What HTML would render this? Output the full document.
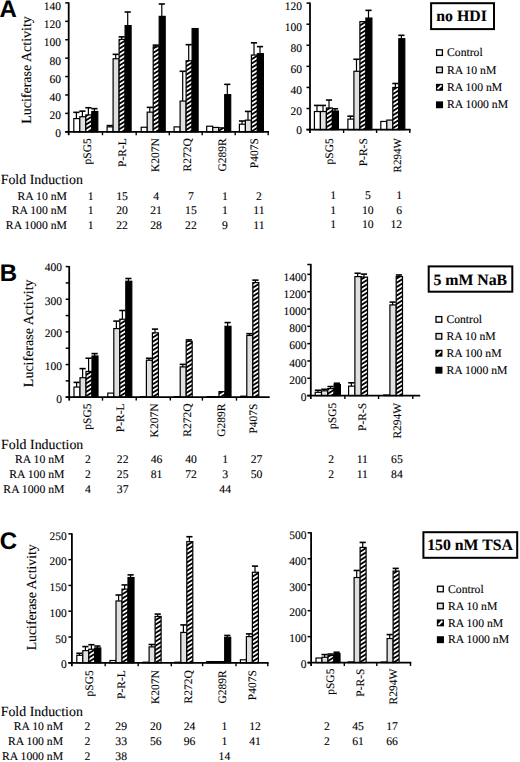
<!DOCTYPE html>
<html><head><meta charset="utf-8"><title>Figure</title>
<style>
html,body{margin:0;padding:0;background:#fff;}
body{width:520px;height:762px;overflow:hidden;font-family:"Liberation Serif",serif;}
svg{display:block;}
text{text-rendering:geometricPrecision;stroke:#000;stroke-width:0.1px;}
</style></head>
<body>
<svg width="520" height="762" viewBox="0 0 520 762">
<defs>
<pattern id="hatch" patternUnits="userSpaceOnUse" width="3.6" height="3.6" patternTransform="rotate(-32)">
<rect x="0" y="0" width="3.6" height="3.6" fill="#000"/>
<rect x="0" y="0.9" width="3.6" height="1.75" fill="#fff"/>
</pattern>
</defs>
<rect x="0" y="0" width="520" height="762" fill="#fff"/>
<text x="-0.6" y="17.4" font-size="24" text-anchor="start" font-weight="bold" font-family='"Liberation Sans", sans-serif'>A</text>
<text transform="translate(30.6,70) rotate(-90)" font-size="14" text-anchor="middle" font-family='"Liberation Serif", serif'>Luciferase Activity</text>
<rect x="73.8" y="118.59" width="6" height="13.21" fill="#fff" stroke="#000" stroke-width="1.2"/>
<line x1="76.4" y1="112.34" x2="76.4" y2="118.59" stroke="#000" stroke-width="1.2"/>
<line x1="73.3" y1="112.34" x2="79.5" y2="112.34" stroke="#000" stroke-width="1.6"/>
<rect x="79.8" y="116.75" width="6" height="15.05" fill="#e0e0e0" stroke="#000" stroke-width="1.2"/>
<line x1="82.4" y1="111.15" x2="82.4" y2="116.75" stroke="#000" stroke-width="1.2"/>
<line x1="79.3" y1="111.15" x2="85.5" y2="111.15" stroke="#000" stroke-width="1.6"/>
<rect x="85.8" y="114.91" width="6" height="16.89" fill="url(#hatch)" stroke="#000" stroke-width="1.2"/>
<line x1="88.4" y1="107.74" x2="88.4" y2="114.91" stroke="#000" stroke-width="1.2"/>
<line x1="85.3" y1="107.74" x2="91.5" y2="107.74" stroke="#000" stroke-width="1.6"/>
<rect x="91.8" y="111.5" width="6" height="20.3" fill="#000" stroke="#000" stroke-width="1.2"/>
<line x1="94.4" y1="108.66" x2="94.4" y2="111.5" stroke="#000" stroke-width="1.2"/>
<line x1="91.3" y1="108.66" x2="97.5" y2="108.66" stroke="#000" stroke-width="1.6"/>
<rect x="107.1" y="126.88" width="6" height="4.92" fill="#fff" stroke="#000" stroke-width="1.2"/>
<line x1="109.7" y1="125.6" x2="109.7" y2="126.88" stroke="#000" stroke-width="1.2"/>
<line x1="106.6" y1="125.6" x2="112.8" y2="125.6" stroke="#000" stroke-width="1.6"/>
<rect x="113.1" y="58.74" width="6" height="73.06" fill="#e0e0e0" stroke="#000" stroke-width="1.2"/>
<line x1="115.7" y1="54.34" x2="115.7" y2="58.74" stroke="#000" stroke-width="1.2"/>
<line x1="112.6" y1="54.34" x2="118.8" y2="54.34" stroke="#000" stroke-width="1.6"/>
<rect x="119.1" y="39.41" width="6" height="92.39" fill="url(#hatch)" stroke="#000" stroke-width="1.2"/>
<line x1="121.7" y1="36.85" x2="121.7" y2="39.41" stroke="#000" stroke-width="1.2"/>
<line x1="118.6" y1="36.85" x2="124.8" y2="36.85" stroke="#000" stroke-width="1.6"/>
<rect x="125.1" y="25.6" width="6" height="106.2" fill="#000" stroke="#000" stroke-width="1.2"/>
<line x1="127.7" y1="11.99" x2="127.7" y2="25.6" stroke="#000" stroke-width="1.2"/>
<line x1="124.6" y1="11.99" x2="130.8" y2="11.99" stroke="#000" stroke-width="1.6"/>
<rect x="141.2" y="127.24" width="6" height="4.56" fill="#fff" stroke="#000" stroke-width="1.2"/>
<rect x="147.2" y="112.14" width="6" height="19.66" fill="#e0e0e0" stroke="#000" stroke-width="1.2"/>
<line x1="149.8" y1="107.37" x2="149.8" y2="112.14" stroke="#000" stroke-width="1.2"/>
<line x1="146.7" y1="107.37" x2="152.9" y2="107.37" stroke="#000" stroke-width="1.6"/>
<rect x="153.2" y="46.77" width="6" height="85.03" fill="url(#hatch)" stroke="#000" stroke-width="1.2"/>
<line x1="155.8" y1="45.13" x2="155.8" y2="46.77" stroke="#000" stroke-width="1.2"/>
<line x1="152.7" y1="45.13" x2="158.9" y2="45.13" stroke="#000" stroke-width="1.6"/>
<rect x="159.2" y="16.39" width="6" height="115.41" fill="#000" stroke="#000" stroke-width="1.2"/>
<line x1="161.8" y1="3.98" x2="161.8" y2="16.39" stroke="#000" stroke-width="1.2"/>
<line x1="158.7" y1="3.98" x2="164.9" y2="3.98" stroke="#000" stroke-width="1.6"/>
<rect x="174.1" y="126.88" width="6" height="4.92" fill="#fff" stroke="#000" stroke-width="1.2"/>
<rect x="180.1" y="101.1" width="6" height="30.7" fill="#e0e0e0" stroke="#000" stroke-width="1.2"/>
<line x1="182.7" y1="71.28" x2="182.7" y2="101.1" stroke="#000" stroke-width="1.2"/>
<line x1="179.6" y1="71.28" x2="185.8" y2="71.28" stroke="#000" stroke-width="1.6"/>
<rect x="186.1" y="60.77" width="6" height="71.03" fill="url(#hatch)" stroke="#000" stroke-width="1.2"/>
<line x1="188.7" y1="44.67" x2="188.7" y2="60.77" stroke="#000" stroke-width="1.2"/>
<line x1="185.6" y1="44.67" x2="191.8" y2="44.67" stroke="#000" stroke-width="1.6"/>
<rect x="192.1" y="28.55" width="6" height="103.25" fill="#000" stroke="#000" stroke-width="1.2"/>
<rect x="206.7" y="126.23" width="6" height="5.57" fill="#fff" stroke="#000" stroke-width="1.2"/>
<rect x="212.7" y="127.43" width="6" height="4.37" fill="#e0e0e0" stroke="#000" stroke-width="1.2"/>
<rect x="218.7" y="127.8" width="6" height="4" fill="url(#hatch)" stroke="#000" stroke-width="1.2"/>
<rect x="224.7" y="94.65" width="6" height="37.15" fill="#000" stroke="#000" stroke-width="1.2"/>
<line x1="227.3" y1="84.36" x2="227.3" y2="94.65" stroke="#000" stroke-width="1.2"/>
<line x1="224.2" y1="84.36" x2="230.4" y2="84.36" stroke="#000" stroke-width="1.6"/>
<rect x="239.4" y="124.21" width="6" height="7.59" fill="#fff" stroke="#000" stroke-width="1.2"/>
<line x1="242" y1="121" x2="242" y2="124.21" stroke="#000" stroke-width="1.2"/>
<line x1="238.9" y1="121" x2="245.1" y2="121" stroke="#000" stroke-width="1.6"/>
<rect x="245.4" y="120.15" width="6" height="11.65" fill="#e0e0e0" stroke="#000" stroke-width="1.2"/>
<line x1="248" y1="111.42" x2="248" y2="120.15" stroke="#000" stroke-width="1.2"/>
<line x1="244.9" y1="111.42" x2="251.1" y2="111.42" stroke="#000" stroke-width="1.6"/>
<rect x="251.4" y="55.06" width="6" height="76.74" fill="url(#hatch)" stroke="#000" stroke-width="1.2"/>
<line x1="254" y1="42.83" x2="254" y2="55.06" stroke="#000" stroke-width="1.2"/>
<line x1="250.9" y1="42.83" x2="257.1" y2="42.83" stroke="#000" stroke-width="1.6"/>
<rect x="257.4" y="53.68" width="6" height="78.12" fill="#000" stroke="#000" stroke-width="1.2"/>
<line x1="260" y1="46.61" x2="260" y2="53.68" stroke="#000" stroke-width="1.2"/>
<line x1="256.9" y1="46.61" x2="263.1" y2="46.61" stroke="#000" stroke-width="1.6"/>
<line x1="68.7" y1="2.3" x2="68.7" y2="135.2" stroke="#000" stroke-width="1.8"/>
<line x1="65.2" y1="131.8" x2="269" y2="131.8" stroke="#000" stroke-width="1.8"/>
<line x1="65.2" y1="131.8" x2="68.7" y2="131.8" stroke="#000" stroke-width="1.5"/>
<line x1="65.2" y1="113.39" x2="68.7" y2="113.39" stroke="#000" stroke-width="1.5"/>
<line x1="65.2" y1="94.97" x2="68.7" y2="94.97" stroke="#000" stroke-width="1.5"/>
<line x1="65.2" y1="76.56" x2="68.7" y2="76.56" stroke="#000" stroke-width="1.5"/>
<line x1="65.2" y1="58.14" x2="68.7" y2="58.14" stroke="#000" stroke-width="1.5"/>
<line x1="65.2" y1="39.73" x2="68.7" y2="39.73" stroke="#000" stroke-width="1.5"/>
<line x1="65.2" y1="21.32" x2="68.7" y2="21.32" stroke="#000" stroke-width="1.5"/>
<line x1="65.2" y1="2.9" x2="68.7" y2="2.9" stroke="#000" stroke-width="1.5"/>
<text x="61" y="136.79" font-size="11.5" text-anchor="end" font-weight="normal" font-family='"Liberation Serif", serif'>0</text>
<text x="61" y="119.48" font-size="11.5" text-anchor="end" font-weight="normal" font-family='"Liberation Serif", serif'>20</text>
<text x="61" y="101.37" font-size="11.5" text-anchor="end" font-weight="normal" font-family='"Liberation Serif", serif'>40</text>
<text x="61" y="82.95" font-size="11.5" text-anchor="end" font-weight="normal" font-family='"Liberation Serif", serif'>60</text>
<text x="61" y="64.54" font-size="11.5" text-anchor="end" font-weight="normal" font-family='"Liberation Serif", serif'>80</text>
<text x="61" y="46.33" font-size="11.5" text-anchor="end" font-weight="normal" font-family='"Liberation Serif", serif'>100</text>
<text x="61" y="27.91" font-size="11.5" text-anchor="end" font-weight="normal" font-family='"Liberation Serif", serif'>120</text>
<text x="61" y="9.7" font-size="11.5" text-anchor="end" font-weight="normal" font-family='"Liberation Serif", serif'>140</text>
<line x1="102.5" y1="131.8" x2="102.5" y2="135.2" stroke="#000" stroke-width="1.4"/>
<line x1="136.2" y1="131.8" x2="136.2" y2="135.2" stroke="#000" stroke-width="1.4"/>
<line x1="169.3" y1="131.8" x2="169.3" y2="135.2" stroke="#000" stroke-width="1.4"/>
<line x1="202.2" y1="131.8" x2="202.2" y2="135.2" stroke="#000" stroke-width="1.4"/>
<line x1="235.2" y1="131.8" x2="235.2" y2="135.2" stroke="#000" stroke-width="1.4"/>
<line x1="268.2" y1="131.8" x2="268.2" y2="135.2" stroke="#000" stroke-width="1.4"/>
<text transform="translate(91.3,138.2) rotate(-90)" font-size="11.5" text-anchor="end" font-family='"Liberation Serif", serif'>pSG5</text>
<text transform="translate(125.8,138.2) rotate(-90)" font-size="11.5" text-anchor="end" font-family='"Liberation Serif", serif'>P-R-L</text>
<text transform="translate(159.2,138.2) rotate(-90)" font-size="11.5" text-anchor="end" font-family='"Liberation Serif", serif'>K207N</text>
<text transform="translate(191.3,138.2) rotate(-90)" font-size="11.5" text-anchor="end" font-family='"Liberation Serif", serif'>R272Q</text>
<text transform="translate(226,138.2) rotate(-90)" font-size="11.5" text-anchor="end" font-family='"Liberation Serif", serif'>G289R</text>
<text transform="translate(258,138.2) rotate(-90)" font-size="11.5" text-anchor="end" font-family='"Liberation Serif", serif'>P407S</text>
<rect x="314.4" y="111.54" width="6" height="18.06" fill="#fff" stroke="#000" stroke-width="1.2"/>
<line x1="317" y1="105.42" x2="317" y2="111.54" stroke="#000" stroke-width="1.2"/>
<line x1="313.9" y1="105.42" x2="320.1" y2="105.42" stroke="#000" stroke-width="1.6"/>
<rect x="320.4" y="111.54" width="6" height="18.06" fill="#e0e0e0" stroke="#000" stroke-width="1.2"/>
<line x1="323" y1="105.42" x2="323" y2="111.54" stroke="#000" stroke-width="1.2"/>
<line x1="319.9" y1="105.42" x2="326.1" y2="105.42" stroke="#000" stroke-width="1.6"/>
<rect x="326.4" y="107.96" width="6" height="21.64" fill="url(#hatch)" stroke="#000" stroke-width="1.2"/>
<line x1="329" y1="100.04" x2="329" y2="107.96" stroke="#000" stroke-width="1.2"/>
<line x1="325.9" y1="100.04" x2="332.1" y2="100.04" stroke="#000" stroke-width="1.6"/>
<rect x="332.4" y="111.02" width="6" height="18.58" fill="#000" stroke="#000" stroke-width="1.2"/>
<line x1="335" y1="108.79" x2="335" y2="111.02" stroke="#000" stroke-width="1.2"/>
<line x1="331.9" y1="108.79" x2="338.1" y2="108.79" stroke="#000" stroke-width="1.6"/>
<rect x="347.9" y="119.13" width="6" height="10.47" fill="#fff" stroke="#000" stroke-width="1.2"/>
<line x1="350.5" y1="116.17" x2="350.5" y2="119.13" stroke="#000" stroke-width="1.2"/>
<line x1="347.4" y1="116.17" x2="353.6" y2="116.17" stroke="#000" stroke-width="1.6"/>
<rect x="353.9" y="71.28" width="6" height="58.32" fill="#e0e0e0" stroke="#000" stroke-width="1.2"/>
<line x1="356.5" y1="59.25" x2="356.5" y2="71.28" stroke="#000" stroke-width="1.2"/>
<line x1="353.4" y1="59.25" x2="359.6" y2="59.25" stroke="#000" stroke-width="1.6"/>
<rect x="359.9" y="21.64" width="6" height="107.96" fill="url(#hatch)" stroke="#000" stroke-width="1.2"/>
<rect x="365.9" y="18.05" width="6" height="111.55" fill="#000" stroke="#000" stroke-width="1.2"/>
<line x1="368.5" y1="10.35" x2="368.5" y2="18.05" stroke="#000" stroke-width="1.2"/>
<line x1="365.4" y1="10.35" x2="371.6" y2="10.35" stroke="#000" stroke-width="1.6"/>
<rect x="380.8" y="121.45" width="6" height="8.15" fill="#fff" stroke="#000" stroke-width="1.2"/>
<rect x="386.8" y="120.08" width="6" height="9.52" fill="#e0e0e0" stroke="#000" stroke-width="1.2"/>
<rect x="392.8" y="87.51" width="6" height="42.09" fill="url(#hatch)" stroke="#000" stroke-width="1.2"/>
<line x1="395.4" y1="83.5" x2="395.4" y2="87.51" stroke="#000" stroke-width="1.2"/>
<line x1="392.3" y1="83.5" x2="398.5" y2="83.5" stroke="#000" stroke-width="1.6"/>
<rect x="398.8" y="38.71" width="6" height="90.89" fill="#000" stroke="#000" stroke-width="1.2"/>
<line x1="401.4" y1="35.33" x2="401.4" y2="38.71" stroke="#000" stroke-width="1.2"/>
<line x1="398.3" y1="35.33" x2="404.5" y2="35.33" stroke="#000" stroke-width="1.6"/>
<line x1="310" y1="2.52" x2="310" y2="133" stroke="#000" stroke-width="1.8"/>
<line x1="306.5" y1="129.6" x2="410.6" y2="129.6" stroke="#000" stroke-width="1.8"/>
<line x1="306.5" y1="129.6" x2="310" y2="129.6" stroke="#000" stroke-width="1.5"/>
<line x1="306.5" y1="108.52" x2="310" y2="108.52" stroke="#000" stroke-width="1.5"/>
<line x1="306.5" y1="87.44" x2="310" y2="87.44" stroke="#000" stroke-width="1.5"/>
<line x1="306.5" y1="66.36" x2="310" y2="66.36" stroke="#000" stroke-width="1.5"/>
<line x1="306.5" y1="45.28" x2="310" y2="45.28" stroke="#000" stroke-width="1.5"/>
<line x1="306.5" y1="24.2" x2="310" y2="24.2" stroke="#000" stroke-width="1.5"/>
<line x1="306.5" y1="3.12" x2="310" y2="3.12" stroke="#000" stroke-width="1.5"/>
<text x="302" y="134.49" font-size="11.5" text-anchor="end" font-weight="normal" font-family='"Liberation Serif", serif'>0</text>
<text x="302" y="114.81" font-size="11.5" text-anchor="end" font-weight="normal" font-family='"Liberation Serif", serif'>20</text>
<text x="302" y="94.14" font-size="11.5" text-anchor="end" font-weight="normal" font-family='"Liberation Serif", serif'>40</text>
<text x="302" y="73.45" font-size="11.5" text-anchor="end" font-weight="normal" font-family='"Liberation Serif", serif'>60</text>
<text x="302" y="52.27" font-size="11.5" text-anchor="end" font-weight="normal" font-family='"Liberation Serif", serif'>80</text>
<text x="302" y="30.59" font-size="11.5" text-anchor="end" font-weight="normal" font-family='"Liberation Serif", serif'>100</text>
<text x="302" y="9.81" font-size="11.5" text-anchor="end" font-weight="normal" font-family='"Liberation Serif", serif'>120</text>
<line x1="343.6" y1="129.6" x2="343.6" y2="133" stroke="#000" stroke-width="1.4"/>
<line x1="376.6" y1="129.6" x2="376.6" y2="133" stroke="#000" stroke-width="1.4"/>
<line x1="409.8" y1="129.6" x2="409.8" y2="133" stroke="#000" stroke-width="1.4"/>
<text transform="translate(333,138.2) rotate(-90)" font-size="11.5" text-anchor="end" font-family='"Liberation Serif", serif'>pSG5</text>
<text transform="translate(367,138.2) rotate(-90)" font-size="11.5" text-anchor="end" font-family='"Liberation Serif", serif'>P-R-S</text>
<text transform="translate(401,138.2) rotate(-90)" font-size="11" text-anchor="end" font-family='"Liberation Serif", serif'>R294W</text>
<rect x="431.1" y="3.2" width="62.9" height="25.9" fill="none" stroke="#000" stroke-width="2"/>
<text x="436.3" y="20.6" font-size="15.8" text-anchor="start" font-weight="bold" font-family='"Liberation Serif", serif'>no HDI</text>
<rect x="436.6" y="49.8" width="5.8" height="5.6" fill="#fff" stroke="#000" stroke-width="1.3"/>
<text x="447" y="56.2" font-size="11.7" text-anchor="start" font-weight="normal" font-family='"Liberation Serif", serif'>Control</text>
<rect x="436.6" y="67.1" width="5.8" height="5.6" fill="#e0e0e0" stroke="#000" stroke-width="1.3"/>
<text x="447" y="73.5" font-size="11.7" text-anchor="start" font-weight="normal" font-family='"Liberation Serif", serif'>RA 10 nM</text>
<rect x="436.6" y="84.5" width="5.8" height="5.6" fill="#000" stroke="#000" stroke-width="1.3"/>
<line x1="437.6" y1="89.1" x2="441.4" y2="85.5" stroke="#000" stroke-width="1.4"/>
<line x1="437.5" y1="89.2" x2="441.5" y2="85.4" stroke="#fff" stroke-width="1.8"/>
<text x="447" y="90.9" font-size="11.7" text-anchor="start" font-weight="normal" font-family='"Liberation Serif", serif'>RA 100 nM</text>
<rect x="436.6" y="102" width="5.8" height="5.6" fill="#000" stroke="#000" stroke-width="1.3"/>
<text x="447" y="108.4" font-size="11.7" text-anchor="start" font-weight="normal" font-family='"Liberation Serif", serif'>RA 1000 nM</text>
<text x="0.7" y="183.8" font-size="13.9" text-anchor="start" font-weight="normal" font-family='"Liberation Serif", serif'>Fold Induction</text>
<text x="66.9" y="199.8" font-size="11.7" text-anchor="end" font-weight="normal" font-family='"Liberation Serif", serif'>RA 10 nM</text>
<text x="66.9" y="214.4" font-size="11.7" text-anchor="end" font-weight="normal" font-family='"Liberation Serif", serif'>RA 100 nM</text>
<text x="66.9" y="228.8" font-size="11.7" text-anchor="end" font-weight="normal" font-family='"Liberation Serif", serif'>RA 1000 nM</text>
<text x="90.6" y="199.8" font-size="11.7" text-anchor="middle" font-weight="normal" font-family='"Liberation Serif", serif'>1</text>
<text x="122.1" y="199.8" font-size="11.7" text-anchor="middle" font-weight="normal" font-family='"Liberation Serif", serif'>15</text>
<text x="156.1" y="199.8" font-size="11.7" text-anchor="middle" font-weight="normal" font-family='"Liberation Serif", serif'>4</text>
<text x="190.9" y="199.8" font-size="11.7" text-anchor="middle" font-weight="normal" font-family='"Liberation Serif", serif'>7</text>
<text x="225" y="199.8" font-size="11.7" text-anchor="middle" font-weight="normal" font-family='"Liberation Serif", serif'>1</text>
<text x="259" y="199.8" font-size="11.7" text-anchor="middle" font-weight="normal" font-family='"Liberation Serif", serif'>2</text>
<text x="333.1" y="199" font-size="11.7" text-anchor="middle" font-weight="normal" font-family='"Liberation Serif", serif'>1</text>
<text x="367.8" y="199" font-size="11.7" text-anchor="middle" font-weight="normal" font-family='"Liberation Serif", serif'>5</text>
<text x="402.2" y="199" font-size="11.7" text-anchor="end" font-weight="normal" font-family='"Liberation Serif", serif'>1</text>
<text x="90.6" y="214.4" font-size="11.7" text-anchor="middle" font-weight="normal" font-family='"Liberation Serif", serif'>1</text>
<text x="122.1" y="214.4" font-size="11.7" text-anchor="middle" font-weight="normal" font-family='"Liberation Serif", serif'>20</text>
<text x="156.1" y="214.4" font-size="11.7" text-anchor="middle" font-weight="normal" font-family='"Liberation Serif", serif'>21</text>
<text x="190.9" y="214.4" font-size="11.7" text-anchor="middle" font-weight="normal" font-family='"Liberation Serif", serif'>15</text>
<text x="225" y="214.4" font-size="11.7" text-anchor="middle" font-weight="normal" font-family='"Liberation Serif", serif'>1</text>
<text x="259" y="214.4" font-size="11.7" text-anchor="middle" font-weight="normal" font-family='"Liberation Serif", serif'>11</text>
<text x="333.1" y="213.6" font-size="11.7" text-anchor="middle" font-weight="normal" font-family='"Liberation Serif", serif'>1</text>
<text x="367.8" y="213.6" font-size="11.7" text-anchor="middle" font-weight="normal" font-family='"Liberation Serif", serif'>10</text>
<text x="402.2" y="213.6" font-size="11.7" text-anchor="end" font-weight="normal" font-family='"Liberation Serif", serif'>6</text>
<text x="90.6" y="228.8" font-size="11.7" text-anchor="middle" font-weight="normal" font-family='"Liberation Serif", serif'>1</text>
<text x="122.1" y="228.8" font-size="11.7" text-anchor="middle" font-weight="normal" font-family='"Liberation Serif", serif'>22</text>
<text x="156.1" y="228.8" font-size="11.7" text-anchor="middle" font-weight="normal" font-family='"Liberation Serif", serif'>28</text>
<text x="190.9" y="228.8" font-size="11.7" text-anchor="middle" font-weight="normal" font-family='"Liberation Serif", serif'>22</text>
<text x="225" y="228.8" font-size="11.7" text-anchor="middle" font-weight="normal" font-family='"Liberation Serif", serif'>9</text>
<text x="259" y="228.8" font-size="11.7" text-anchor="middle" font-weight="normal" font-family='"Liberation Serif", serif'>11</text>
<text x="333.1" y="228" font-size="11.7" text-anchor="middle" font-weight="normal" font-family='"Liberation Serif", serif'>1</text>
<text x="367.8" y="228" font-size="11.7" text-anchor="middle" font-weight="normal" font-family='"Liberation Serif", serif'>10</text>
<text x="402.2" y="228" font-size="11.7" text-anchor="end" font-weight="normal" font-family='"Liberation Serif", serif'>12</text>
<text x="-0.2" y="280.8" font-size="24" text-anchor="start" font-weight="bold" font-family='"Liberation Sans", sans-serif'>B</text>
<text transform="translate(33,333.3) rotate(-90)" font-size="14" text-anchor="middle" font-family='"Liberation Serif", serif'>Luciferase Activity</text>
<rect x="74" y="387.06" width="6" height="10.14" fill="#fff" stroke="#000" stroke-width="1.2"/>
<line x1="76.6" y1="382.39" x2="76.6" y2="387.06" stroke="#000" stroke-width="1.2"/>
<line x1="73.5" y1="382.39" x2="79.7" y2="382.39" stroke="#000" stroke-width="1.6"/>
<rect x="80" y="377.72" width="6" height="19.48" fill="#e0e0e0" stroke="#000" stroke-width="1.2"/>
<line x1="82.6" y1="368.62" x2="82.6" y2="377.72" stroke="#000" stroke-width="1.2"/>
<line x1="79.5" y1="368.62" x2="85.7" y2="368.62" stroke="#000" stroke-width="1.6"/>
<rect x="86" y="371.45" width="6" height="25.75" fill="url(#hatch)" stroke="#000" stroke-width="1.2"/>
<line x1="88.6" y1="358.23" x2="88.6" y2="371.45" stroke="#000" stroke-width="1.2"/>
<line x1="85.5" y1="358.23" x2="91.7" y2="358.23" stroke="#000" stroke-width="1.6"/>
<rect x="92" y="356.01" width="6" height="41.19" fill="#000" stroke="#000" stroke-width="1.2"/>
<line x1="94.6" y1="353.6" x2="94.6" y2="356.01" stroke="#000" stroke-width="1.2"/>
<line x1="91.5" y1="353.6" x2="97.7" y2="353.6" stroke="#000" stroke-width="1.6"/>
<rect x="107.8" y="393.1" width="6" height="4.1" fill="#fff" stroke="#000" stroke-width="1.2"/>
<rect x="113.8" y="328.58" width="6" height="68.62" fill="#e0e0e0" stroke="#000" stroke-width="1.2"/>
<line x1="116.4" y1="321.11" x2="116.4" y2="328.58" stroke="#000" stroke-width="1.2"/>
<line x1="113.3" y1="321.11" x2="119.5" y2="321.11" stroke="#000" stroke-width="1.6"/>
<rect x="119.8" y="319.21" width="6" height="77.99" fill="url(#hatch)" stroke="#000" stroke-width="1.2"/>
<line x1="122.4" y1="310.5" x2="122.4" y2="319.21" stroke="#000" stroke-width="1.2"/>
<line x1="119.3" y1="310.5" x2="125.5" y2="310.5" stroke="#000" stroke-width="1.6"/>
<rect x="125.8" y="281.24" width="6" height="115.96" fill="#000" stroke="#000" stroke-width="1.2"/>
<line x1="128.4" y1="278.5" x2="128.4" y2="281.24" stroke="#000" stroke-width="1.2"/>
<line x1="125.3" y1="278.5" x2="131.5" y2="278.5" stroke="#000" stroke-width="1.6"/>
<rect x="140.4" y="396.6" width="6" height="0.6" fill="#fff" stroke="#000" stroke-width="1.2"/>
<rect x="146.4" y="360.25" width="6" height="36.95" fill="#e0e0e0" stroke="#000" stroke-width="1.2"/>
<line x1="149" y1="358.3" x2="149" y2="360.25" stroke="#000" stroke-width="1.2"/>
<line x1="145.9" y1="358.3" x2="152.1" y2="358.3" stroke="#000" stroke-width="1.6"/>
<rect x="152.4" y="332.83" width="6" height="64.37" fill="url(#hatch)" stroke="#000" stroke-width="1.2"/>
<line x1="155" y1="329.11" x2="155" y2="332.83" stroke="#000" stroke-width="1.2"/>
<line x1="151.9" y1="329.11" x2="158.1" y2="329.11" stroke="#000" stroke-width="1.6"/>
<rect x="174.2" y="396.6" width="6" height="0.6" fill="#fff" stroke="#000" stroke-width="1.2"/>
<rect x="180.2" y="366.91" width="6" height="30.29" fill="#e0e0e0" stroke="#000" stroke-width="1.2"/>
<line x1="182.8" y1="364.37" x2="182.8" y2="366.91" stroke="#000" stroke-width="1.2"/>
<line x1="179.7" y1="364.37" x2="185.9" y2="364.37" stroke="#000" stroke-width="1.6"/>
<rect x="186.2" y="341.32" width="6" height="55.88" fill="url(#hatch)" stroke="#000" stroke-width="1.2"/>
<line x1="188.8" y1="339.88" x2="188.8" y2="341.32" stroke="#000" stroke-width="1.2"/>
<line x1="185.7" y1="339.88" x2="191.9" y2="339.88" stroke="#000" stroke-width="1.6"/>
<rect x="207" y="396.6" width="6" height="0.6" fill="#fff" stroke="#000" stroke-width="1.2"/>
<rect x="213" y="396.6" width="6" height="0.6" fill="#e0e0e0" stroke="#000" stroke-width="1.2"/>
<rect x="219" y="391.6" width="6" height="5.6" fill="url(#hatch)" stroke="#000" stroke-width="1.2"/>
<rect x="225" y="326.3" width="6" height="70.9" fill="#000" stroke="#000" stroke-width="1.2"/>
<line x1="227.6" y1="322.58" x2="227.6" y2="326.3" stroke="#000" stroke-width="1.2"/>
<line x1="224.5" y1="322.58" x2="230.7" y2="322.58" stroke="#000" stroke-width="1.6"/>
<rect x="240.8" y="396.17" width="6" height="1.03" fill="#fff" stroke="#000" stroke-width="1.2"/>
<rect x="246.8" y="335.44" width="6" height="61.76" fill="#e0e0e0" stroke="#000" stroke-width="1.2"/>
<line x1="249.4" y1="333.68" x2="249.4" y2="335.44" stroke="#000" stroke-width="1.2"/>
<line x1="246.3" y1="333.68" x2="252.5" y2="333.68" stroke="#000" stroke-width="1.6"/>
<rect x="252.8" y="282.55" width="6" height="114.65" fill="url(#hatch)" stroke="#000" stroke-width="1.2"/>
<line x1="255.4" y1="280.13" x2="255.4" y2="282.55" stroke="#000" stroke-width="1.2"/>
<line x1="252.3" y1="280.13" x2="258.5" y2="280.13" stroke="#000" stroke-width="1.6"/>
<line x1="69.2" y1="266" x2="69.2" y2="400.6" stroke="#000" stroke-width="1.8"/>
<line x1="65.7" y1="397.2" x2="269.7" y2="397.2" stroke="#000" stroke-width="1.8"/>
<line x1="65.7" y1="397.2" x2="69.2" y2="397.2" stroke="#000" stroke-width="1.5"/>
<line x1="65.7" y1="364.55" x2="69.2" y2="364.55" stroke="#000" stroke-width="1.5"/>
<line x1="65.7" y1="331.9" x2="69.2" y2="331.9" stroke="#000" stroke-width="1.5"/>
<line x1="65.7" y1="299.25" x2="69.2" y2="299.25" stroke="#000" stroke-width="1.5"/>
<line x1="65.7" y1="266.6" x2="69.2" y2="266.6" stroke="#000" stroke-width="1.5"/>
<line x1="65.7" y1="380.88" x2="69.2" y2="380.88" stroke="#000" stroke-width="1.5"/>
<line x1="65.7" y1="348.22" x2="69.2" y2="348.22" stroke="#000" stroke-width="1.5"/>
<line x1="65.7" y1="315.57" x2="69.2" y2="315.57" stroke="#000" stroke-width="1.5"/>
<line x1="65.7" y1="282.92" x2="69.2" y2="282.92" stroke="#000" stroke-width="1.5"/>
<text x="62" y="403.39" font-size="11.5" text-anchor="end" font-weight="normal" font-family='"Liberation Serif", serif'>0</text>
<text x="62" y="369.55" font-size="11.5" text-anchor="end" font-weight="normal" font-family='"Liberation Serif", serif'>100</text>
<text x="62" y="337.19" font-size="11.5" text-anchor="end" font-weight="normal" font-family='"Liberation Serif", serif'>200</text>
<text x="62" y="304.55" font-size="11.5" text-anchor="end" font-weight="normal" font-family='"Liberation Serif", serif'>300</text>
<text x="62" y="271.4" font-size="11.5" text-anchor="end" font-weight="normal" font-family='"Liberation Serif", serif'>400</text>
<line x1="102.5" y1="397.2" x2="102.5" y2="400.6" stroke="#000" stroke-width="1.4"/>
<line x1="136.2" y1="397.2" x2="136.2" y2="400.6" stroke="#000" stroke-width="1.4"/>
<line x1="170.3" y1="397.2" x2="170.3" y2="400.6" stroke="#000" stroke-width="1.4"/>
<line x1="202.4" y1="397.2" x2="202.4" y2="400.6" stroke="#000" stroke-width="1.4"/>
<line x1="236.5" y1="397.2" x2="236.5" y2="400.6" stroke="#000" stroke-width="1.4"/>
<text transform="translate(91,403.5) rotate(-90)" font-size="11.5" text-anchor="end" font-family='"Liberation Serif", serif'>pSG5</text>
<text transform="translate(124.3,403.5) rotate(-90)" font-size="11.5" text-anchor="end" font-family='"Liberation Serif", serif'>P-R-L</text>
<text transform="translate(158,403.5) rotate(-90)" font-size="11.5" text-anchor="end" font-family='"Liberation Serif", serif'>K207N</text>
<text transform="translate(190.5,403.5) rotate(-90)" font-size="11.5" text-anchor="end" font-family='"Liberation Serif", serif'>R272Q</text>
<text transform="translate(225.3,403.5) rotate(-90)" font-size="11.5" text-anchor="end" font-family='"Liberation Serif", serif'>G289R</text>
<text transform="translate(256.5,403.5) rotate(-90)" font-size="11.5" text-anchor="end" font-family='"Liberation Serif", serif'>P407S</text>
<rect x="315.2" y="392.3" width="6.3" height="3.3" fill="#fff" stroke="#000" stroke-width="1.2"/>
<line x1="317.95" y1="390.25" x2="317.95" y2="392.3" stroke="#000" stroke-width="1.2"/>
<line x1="314.85" y1="390.25" x2="321.05" y2="390.25" stroke="#000" stroke-width="1.6"/>
<rect x="321.5" y="390.83" width="6.3" height="4.77" fill="#e0e0e0" stroke="#000" stroke-width="1.2"/>
<line x1="324.25" y1="389.3" x2="324.25" y2="390.83" stroke="#000" stroke-width="1.2"/>
<line x1="321.15" y1="389.3" x2="327.35" y2="389.3" stroke="#000" stroke-width="1.6"/>
<rect x="327.8" y="388.58" width="6.3" height="7.02" fill="url(#hatch)" stroke="#000" stroke-width="1.2"/>
<line x1="330.55" y1="386.53" x2="330.55" y2="388.58" stroke="#000" stroke-width="1.2"/>
<line x1="327.45" y1="386.53" x2="333.65" y2="386.53" stroke="#000" stroke-width="1.6"/>
<rect x="334.1" y="384.51" width="6.3" height="11.09" fill="#000" stroke="#000" stroke-width="1.2"/>
<line x1="336.85" y1="383.24" x2="336.85" y2="384.51" stroke="#000" stroke-width="1.2"/>
<line x1="333.75" y1="383.24" x2="339.95" y2="383.24" stroke="#000" stroke-width="1.6"/>
<rect x="348.6" y="386.15" width="6.3" height="9.45" fill="#fff" stroke="#000" stroke-width="1.2"/>
<line x1="351.35" y1="382.8" x2="351.35" y2="386.15" stroke="#000" stroke-width="1.2"/>
<line x1="348.25" y1="382.8" x2="354.45" y2="382.8" stroke="#000" stroke-width="1.6"/>
<rect x="354.9" y="276.61" width="6.3" height="118.99" fill="#e0e0e0" stroke="#000" stroke-width="1.2"/>
<line x1="357.65" y1="273.25" x2="357.65" y2="276.61" stroke="#000" stroke-width="1.2"/>
<line x1="354.55" y1="273.25" x2="360.75" y2="273.25" stroke="#000" stroke-width="1.6"/>
<rect x="361.2" y="277.13" width="6.3" height="118.47" fill="url(#hatch)" stroke="#000" stroke-width="1.2"/>
<line x1="363.95" y1="274.12" x2="363.95" y2="277.13" stroke="#000" stroke-width="1.2"/>
<line x1="360.85" y1="274.12" x2="367.05" y2="274.12" stroke="#000" stroke-width="1.6"/>
<rect x="383.6" y="395" width="6.3" height="0.6" fill="#fff" stroke="#000" stroke-width="1.2"/>
<rect x="389.9" y="304.92" width="6.3" height="90.68" fill="#e0e0e0" stroke="#000" stroke-width="1.2"/>
<line x1="392.65" y1="302.09" x2="392.65" y2="304.92" stroke="#000" stroke-width="1.2"/>
<line x1="389.55" y1="302.09" x2="395.75" y2="302.09" stroke="#000" stroke-width="1.6"/>
<rect x="396.2" y="276.61" width="6.3" height="118.99" fill="url(#hatch)" stroke="#000" stroke-width="1.2"/>
<line x1="398.95" y1="274.99" x2="398.95" y2="276.61" stroke="#000" stroke-width="1.2"/>
<line x1="395.85" y1="274.99" x2="402.05" y2="274.99" stroke="#000" stroke-width="1.6"/>
<line x1="310.8" y1="263.9" x2="310.8" y2="399" stroke="#000" stroke-width="1.8"/>
<line x1="307.3" y1="395.6" x2="420.2" y2="395.6" stroke="#000" stroke-width="1.8"/>
<line x1="307.3" y1="395.6" x2="310.8" y2="395.6" stroke="#000" stroke-width="1.5"/>
<line x1="307.3" y1="378.28" x2="310.8" y2="378.28" stroke="#000" stroke-width="1.5"/>
<line x1="307.3" y1="360.96" x2="310.8" y2="360.96" stroke="#000" stroke-width="1.5"/>
<line x1="307.3" y1="343.64" x2="310.8" y2="343.64" stroke="#000" stroke-width="1.5"/>
<line x1="307.3" y1="326.32" x2="310.8" y2="326.32" stroke="#000" stroke-width="1.5"/>
<line x1="307.3" y1="309" x2="310.8" y2="309" stroke="#000" stroke-width="1.5"/>
<line x1="307.3" y1="291.68" x2="310.8" y2="291.68" stroke="#000" stroke-width="1.5"/>
<line x1="307.3" y1="274.36" x2="310.8" y2="274.36" stroke="#000" stroke-width="1.5"/>
<line x1="307.3" y1="264.5" x2="310.8" y2="264.5" stroke="#000" stroke-width="1.5"/>
<text x="306.5" y="400.9" font-size="11.5" text-anchor="end" font-weight="normal" font-family='"Liberation Serif", serif'>0</text>
<text x="306.5" y="384.08" font-size="11.5" text-anchor="end" font-weight="normal" font-family='"Liberation Serif", serif'>200</text>
<text x="306.5" y="366.76" font-size="11.5" text-anchor="end" font-weight="normal" font-family='"Liberation Serif", serif'>400</text>
<text x="306.5" y="349.44" font-size="11.5" text-anchor="end" font-weight="normal" font-family='"Liberation Serif", serif'>600</text>
<text x="306.5" y="332.32" font-size="11.5" text-anchor="end" font-weight="normal" font-family='"Liberation Serif", serif'>800</text>
<text x="306.5" y="315" font-size="11.5" text-anchor="end" font-weight="normal" font-family='"Liberation Serif", serif'>1000</text>
<text x="306.5" y="297.58" font-size="11.5" text-anchor="end" font-weight="normal" font-family='"Liberation Serif", serif'>1200</text>
<text x="306.5" y="281.36" font-size="11.5" text-anchor="end" font-weight="normal" font-family='"Liberation Serif", serif'>1400</text>
<line x1="344.9" y1="395.6" x2="344.9" y2="399" stroke="#000" stroke-width="1.4"/>
<line x1="378.6" y1="395.6" x2="378.6" y2="399" stroke="#000" stroke-width="1.4"/>
<line x1="412.8" y1="395.6" x2="412.8" y2="399" stroke="#000" stroke-width="1.4"/>
<text transform="translate(336.1,402.8) rotate(-90)" font-size="11.5" text-anchor="end" font-family='"Liberation Serif", serif'>pSG5</text>
<text transform="translate(366.3,402.8) rotate(-90)" font-size="11.5" text-anchor="end" font-family='"Liberation Serif", serif'>P-R-S</text>
<text transform="translate(400.5,402.8) rotate(-90)" font-size="11.5" text-anchor="end" font-family='"Liberation Serif", serif'>R294W</text>
<rect x="428.7" y="266.4" width="83.6" height="25.3" fill="none" stroke="#000" stroke-width="2"/>
<text x="433.4" y="284.6" font-size="15.8" text-anchor="start" font-weight="bold" font-family='"Liberation Serif", serif'>5 mM NaB</text>
<rect x="436" y="316.6" width="5.8" height="5.6" fill="#fff" stroke="#000" stroke-width="1.3"/>
<text x="446.4" y="323" font-size="11.7" text-anchor="start" font-weight="normal" font-family='"Liberation Serif", serif'>Control</text>
<rect x="436" y="333.5" width="5.8" height="5.6" fill="#e0e0e0" stroke="#000" stroke-width="1.3"/>
<text x="446.4" y="339.9" font-size="11.7" text-anchor="start" font-weight="normal" font-family='"Liberation Serif", serif'>RA 10 nM</text>
<rect x="436" y="350.4" width="5.8" height="5.6" fill="#000" stroke="#000" stroke-width="1.3"/>
<line x1="437" y1="355" x2="440.8" y2="351.4" stroke="#000" stroke-width="1.4"/>
<line x1="436.9" y1="355.1" x2="440.9" y2="351.3" stroke="#fff" stroke-width="1.8"/>
<text x="446.4" y="356.8" font-size="11.7" text-anchor="start" font-weight="normal" font-family='"Liberation Serif", serif'>RA 100 nM</text>
<rect x="436" y="367.4" width="5.8" height="5.6" fill="#000" stroke="#000" stroke-width="1.3"/>
<text x="446.4" y="373.8" font-size="11.7" text-anchor="start" font-weight="normal" font-family='"Liberation Serif", serif'>RA 1000 nM</text>
<text x="1.1" y="448.5" font-size="13.9" text-anchor="start" font-weight="normal" font-family='"Liberation Serif", serif'>Fold Induction</text>
<text x="64.4" y="463.3" font-size="11.7" text-anchor="end" font-weight="normal" font-family='"Liberation Serif", serif'>RA 10 nM</text>
<text x="64.4" y="478.1" font-size="11.7" text-anchor="end" font-weight="normal" font-family='"Liberation Serif", serif'>RA 100 nM</text>
<text x="64.4" y="492.7" font-size="11.7" text-anchor="end" font-weight="normal" font-family='"Liberation Serif", serif'>RA 1000 nM</text>
<text x="88" y="463.3" font-size="11.7" text-anchor="middle" font-weight="normal" font-family='"Liberation Serif", serif'>2</text>
<text x="122.7" y="463.3" font-size="11.7" text-anchor="middle" font-weight="normal" font-family='"Liberation Serif", serif'>22</text>
<text x="156.5" y="463.3" font-size="11.7" text-anchor="middle" font-weight="normal" font-family='"Liberation Serif", serif'>46</text>
<text x="191" y="463.3" font-size="11.7" text-anchor="middle" font-weight="normal" font-family='"Liberation Serif", serif'>40</text>
<text x="225.2" y="463.3" font-size="11.7" text-anchor="middle" font-weight="normal" font-family='"Liberation Serif", serif'>1</text>
<text x="256.5" y="463.3" font-size="11.7" text-anchor="middle" font-weight="normal" font-family='"Liberation Serif", serif'>27</text>
<text x="331.2" y="463.3" font-size="11.7" text-anchor="middle" font-weight="normal" font-family='"Liberation Serif", serif'>2</text>
<text x="362.3" y="463.3" font-size="11.7" text-anchor="middle" font-weight="normal" font-family='"Liberation Serif", serif'>11</text>
<text x="396.9" y="463.3" font-size="11.7" text-anchor="middle" font-weight="normal" font-family='"Liberation Serif", serif'>65</text>
<text x="88" y="478.1" font-size="11.7" text-anchor="middle" font-weight="normal" font-family='"Liberation Serif", serif'>2</text>
<text x="122.7" y="478.1" font-size="11.7" text-anchor="middle" font-weight="normal" font-family='"Liberation Serif", serif'>25</text>
<text x="156.5" y="478.1" font-size="11.7" text-anchor="middle" font-weight="normal" font-family='"Liberation Serif", serif'>81</text>
<text x="191" y="478.1" font-size="11.7" text-anchor="middle" font-weight="normal" font-family='"Liberation Serif", serif'>72</text>
<text x="225.2" y="478.1" font-size="11.7" text-anchor="middle" font-weight="normal" font-family='"Liberation Serif", serif'>3</text>
<text x="256.5" y="478.1" font-size="11.7" text-anchor="middle" font-weight="normal" font-family='"Liberation Serif", serif'>50</text>
<text x="331.2" y="478.1" font-size="11.7" text-anchor="middle" font-weight="normal" font-family='"Liberation Serif", serif'>2</text>
<text x="362.3" y="478.1" font-size="11.7" text-anchor="middle" font-weight="normal" font-family='"Liberation Serif", serif'>11</text>
<text x="396.9" y="478.1" font-size="11.7" text-anchor="middle" font-weight="normal" font-family='"Liberation Serif", serif'>84</text>
<text x="88" y="492.7" font-size="11.7" text-anchor="middle" font-weight="normal" font-family='"Liberation Serif", serif'>4</text>
<text x="122.7" y="492.7" font-size="11.7" text-anchor="middle" font-weight="normal" font-family='"Liberation Serif", serif'>37</text>
<text x="225.2" y="492.7" font-size="11.7" text-anchor="middle" font-weight="normal" font-family='"Liberation Serif", serif'>44</text>
<text x="-0.2" y="549.2" font-size="24" text-anchor="start" font-weight="bold" font-family='"Liberation Sans", sans-serif'>C</text>
<text transform="translate(35.5,597.3) rotate(-90)" font-size="13.8" text-anchor="middle" font-family='"Liberation Serif", serif'>Luciferase Activity</text>
<rect x="76.8" y="655.3" width="6" height="7.5" fill="#fff" stroke="#000" stroke-width="1.2"/>
<line x1="79.4" y1="653.28" x2="79.4" y2="655.3" stroke="#000" stroke-width="1.2"/>
<line x1="76.3" y1="653.28" x2="82.5" y2="653.28" stroke="#000" stroke-width="1.6"/>
<rect x="82.8" y="650.61" width="6" height="12.19" fill="#e0e0e0" stroke="#000" stroke-width="1.2"/>
<line x1="85.4" y1="646.58" x2="85.4" y2="650.61" stroke="#000" stroke-width="1.2"/>
<line x1="82.3" y1="646.58" x2="88.5" y2="646.58" stroke="#000" stroke-width="1.6"/>
<rect x="88.8" y="649.22" width="6" height="13.58" fill="url(#hatch)" stroke="#000" stroke-width="1.2"/>
<line x1="91.4" y1="644.72" x2="91.4" y2="649.22" stroke="#000" stroke-width="1.2"/>
<line x1="88.3" y1="644.72" x2="94.5" y2="644.72" stroke="#000" stroke-width="1.6"/>
<rect x="94.8" y="647.93" width="6" height="14.87" fill="#000" stroke="#000" stroke-width="1.2"/>
<line x1="97.4" y1="646.06" x2="97.4" y2="647.93" stroke="#000" stroke-width="1.2"/>
<line x1="94.3" y1="646.06" x2="100.5" y2="646.06" stroke="#000" stroke-width="1.6"/>
<rect x="110" y="660.51" width="6" height="2.29" fill="#fff" stroke="#000" stroke-width="1.2"/>
<rect x="116" y="600.99" width="6" height="61.81" fill="#e0e0e0" stroke="#000" stroke-width="1.2"/>
<line x1="118.6" y1="595" x2="118.6" y2="600.99" stroke="#000" stroke-width="1.2"/>
<line x1="115.5" y1="595" x2="121.7" y2="595" stroke="#000" stroke-width="1.6"/>
<rect x="122" y="589.12" width="6" height="73.68" fill="url(#hatch)" stroke="#000" stroke-width="1.2"/>
<line x1="124.6" y1="584.94" x2="124.6" y2="589.12" stroke="#000" stroke-width="1.2"/>
<line x1="121.5" y1="584.94" x2="127.7" y2="584.94" stroke="#000" stroke-width="1.6"/>
<rect x="128" y="577.52" width="6" height="85.28" fill="#000" stroke="#000" stroke-width="1.2"/>
<line x1="130.6" y1="574.88" x2="130.6" y2="577.52" stroke="#000" stroke-width="1.2"/>
<line x1="127.5" y1="574.88" x2="133.7" y2="574.88" stroke="#000" stroke-width="1.6"/>
<rect x="143.1" y="662.2" width="6" height="0.6" fill="#fff" stroke="#000" stroke-width="1.2"/>
<rect x="149.1" y="646.89" width="6" height="15.91" fill="#e0e0e0" stroke="#000" stroke-width="1.2"/>
<line x1="151.7" y1="644.52" x2="151.7" y2="646.89" stroke="#000" stroke-width="1.2"/>
<line x1="148.6" y1="644.52" x2="154.8" y2="644.52" stroke="#000" stroke-width="1.6"/>
<rect x="155.1" y="616.46" width="6" height="46.34" fill="url(#hatch)" stroke="#000" stroke-width="1.2"/>
<line x1="157.7" y1="614.08" x2="157.7" y2="616.46" stroke="#000" stroke-width="1.2"/>
<line x1="154.6" y1="614.08" x2="160.8" y2="614.08" stroke="#000" stroke-width="1.6"/>
<rect x="174.8" y="662.2" width="6" height="0.6" fill="#fff" stroke="#000" stroke-width="1.2"/>
<rect x="180.8" y="632.45" width="6" height="30.35" fill="#e0e0e0" stroke="#000" stroke-width="1.2"/>
<line x1="183.4" y1="624.91" x2="183.4" y2="632.45" stroke="#000" stroke-width="1.2"/>
<line x1="180.3" y1="624.91" x2="186.5" y2="624.91" stroke="#000" stroke-width="1.6"/>
<rect x="186.8" y="541.67" width="6" height="121.13" fill="url(#hatch)" stroke="#000" stroke-width="1.2"/>
<line x1="189.4" y1="536.71" x2="189.4" y2="541.67" stroke="#000" stroke-width="1.2"/>
<line x1="186.3" y1="536.71" x2="192.5" y2="536.71" stroke="#000" stroke-width="1.6"/>
<rect x="206.7" y="661.59" width="6" height="1.21" fill="#fff" stroke="#000" stroke-width="1.2"/>
<rect x="212.7" y="661.59" width="6" height="1.21" fill="#e0e0e0" stroke="#000" stroke-width="1.2"/>
<rect x="218.7" y="661.59" width="6" height="1.21" fill="url(#hatch)" stroke="#000" stroke-width="1.2"/>
<rect x="224.7" y="637.3" width="6" height="25.5" fill="#000" stroke="#000" stroke-width="1.2"/>
<line x1="227.3" y1="635.44" x2="227.3" y2="637.3" stroke="#000" stroke-width="1.2"/>
<line x1="224.2" y1="635.44" x2="230.4" y2="635.44" stroke="#000" stroke-width="1.6"/>
<rect x="240.4" y="659.79" width="6" height="3.01" fill="#fff" stroke="#000" stroke-width="1.2"/>
<rect x="246.4" y="636.58" width="6" height="26.22" fill="#e0e0e0" stroke="#000" stroke-width="1.2"/>
<line x1="249" y1="633.89" x2="249" y2="636.58" stroke="#000" stroke-width="1.2"/>
<line x1="245.9" y1="633.89" x2="252.1" y2="633.89" stroke="#000" stroke-width="1.6"/>
<rect x="252.4" y="572.26" width="6" height="90.54" fill="url(#hatch)" stroke="#000" stroke-width="1.2"/>
<line x1="255" y1="566.11" x2="255" y2="572.26" stroke="#000" stroke-width="1.2"/>
<line x1="251.9" y1="566.11" x2="258.1" y2="566.11" stroke="#000" stroke-width="1.6"/>
<line x1="71.9" y1="533.25" x2="71.9" y2="666.2" stroke="#000" stroke-width="1.8"/>
<line x1="68.4" y1="662.8" x2="268.6" y2="662.8" stroke="#000" stroke-width="1.8"/>
<line x1="68.4" y1="662.8" x2="71.9" y2="662.8" stroke="#000" stroke-width="1.5"/>
<line x1="68.4" y1="637.01" x2="71.9" y2="637.01" stroke="#000" stroke-width="1.5"/>
<line x1="68.4" y1="611.22" x2="71.9" y2="611.22" stroke="#000" stroke-width="1.5"/>
<line x1="68.4" y1="585.43" x2="71.9" y2="585.43" stroke="#000" stroke-width="1.5"/>
<line x1="68.4" y1="559.64" x2="71.9" y2="559.64" stroke="#000" stroke-width="1.5"/>
<line x1="68.4" y1="533.85" x2="71.9" y2="533.85" stroke="#000" stroke-width="1.5"/>
<text x="66.7" y="668.19" font-size="11.5" text-anchor="end" font-weight="normal" font-family='"Liberation Serif", serif'>0</text>
<text x="66.7" y="642.5" font-size="11.5" text-anchor="end" font-weight="normal" font-family='"Liberation Serif", serif'>50</text>
<text x="66.7" y="617.01" font-size="11.5" text-anchor="end" font-weight="normal" font-family='"Liberation Serif", serif'>100</text>
<text x="66.7" y="591.22" font-size="11.5" text-anchor="end" font-weight="normal" font-family='"Liberation Serif", serif'>150</text>
<text x="66.7" y="565.43" font-size="11.5" text-anchor="end" font-weight="normal" font-family='"Liberation Serif", serif'>200</text>
<text x="66.7" y="539.74" font-size="11.5" text-anchor="end" font-weight="normal" font-family='"Liberation Serif", serif'>250</text>
<line x1="105.2" y1="662.8" x2="105.2" y2="666.2" stroke="#000" stroke-width="1.4"/>
<line x1="138.2" y1="662.8" x2="138.2" y2="666.2" stroke="#000" stroke-width="1.4"/>
<line x1="171.3" y1="662.8" x2="171.3" y2="666.2" stroke="#000" stroke-width="1.4"/>
<line x1="202.6" y1="662.8" x2="202.6" y2="666.2" stroke="#000" stroke-width="1.4"/>
<line x1="236" y1="662.8" x2="236" y2="666.2" stroke="#000" stroke-width="1.4"/>
<line x1="267.8" y1="662.8" x2="267.8" y2="666.2" stroke="#000" stroke-width="1.4"/>
<text transform="translate(92.8,670.2) rotate(-90)" font-size="11.5" text-anchor="end" font-family='"Liberation Serif", serif'>pSG5</text>
<text transform="translate(124.5,670.2) rotate(-90)" font-size="11.5" text-anchor="end" font-family='"Liberation Serif", serif'>P-R-L</text>
<text transform="translate(158.7,670.2) rotate(-90)" font-size="11.5" text-anchor="end" font-family='"Liberation Serif", serif'>K207N</text>
<text transform="translate(192.4,670.2) rotate(-90)" font-size="11.5" text-anchor="end" font-family='"Liberation Serif", serif'>R272Q</text>
<text transform="translate(226,670.2) rotate(-90)" font-size="11.5" text-anchor="end" font-family='"Liberation Serif", serif'>G289R</text>
<text transform="translate(256.2,670.2) rotate(-90)" font-size="11.5" text-anchor="end" font-family='"Liberation Serif", serif'>P407S</text>
<rect x="316" y="658.01" width="6" height="4.59" fill="#fff" stroke="#000" stroke-width="1.2"/>
<rect x="322" y="657.23" width="6" height="5.37" fill="#e0e0e0" stroke="#000" stroke-width="1.2"/>
<line x1="324.6" y1="654.57" x2="324.6" y2="657.23" stroke="#000" stroke-width="1.2"/>
<line x1="321.5" y1="654.57" x2="327.7" y2="654.57" stroke="#000" stroke-width="1.6"/>
<rect x="328" y="655.54" width="6" height="7.06" fill="url(#hatch)" stroke="#000" stroke-width="1.2"/>
<line x1="330.6" y1="654.05" x2="330.6" y2="655.54" stroke="#000" stroke-width="1.2"/>
<line x1="327.5" y1="654.05" x2="333.7" y2="654.05" stroke="#000" stroke-width="1.6"/>
<rect x="334" y="653.59" width="6" height="9.01" fill="#000" stroke="#000" stroke-width="1.2"/>
<line x1="336.6" y1="652.24" x2="336.6" y2="653.59" stroke="#000" stroke-width="1.2"/>
<line x1="333.5" y1="652.24" x2="339.7" y2="652.24" stroke="#000" stroke-width="1.6"/>
<rect x="348.1" y="661.9" width="6" height="0.7" fill="#fff" stroke="#000" stroke-width="1.2"/>
<rect x="354.1" y="577.53" width="6" height="85.07" fill="#e0e0e0" stroke="#000" stroke-width="1.2"/>
<line x1="356.7" y1="570.46" x2="356.7" y2="577.53" stroke="#000" stroke-width="1.2"/>
<line x1="353.6" y1="570.46" x2="359.8" y2="570.46" stroke="#000" stroke-width="1.6"/>
<rect x="360.1" y="547.42" width="6" height="115.18" fill="url(#hatch)" stroke="#000" stroke-width="1.2"/>
<line x1="362.7" y1="542.43" x2="362.7" y2="547.42" stroke="#000" stroke-width="1.2"/>
<line x1="359.6" y1="542.43" x2="365.8" y2="542.43" stroke="#000" stroke-width="1.6"/>
<rect x="381.1" y="662" width="6" height="0.6" fill="#fff" stroke="#000" stroke-width="1.2"/>
<rect x="387.1" y="638.54" width="6" height="24.06" fill="#e0e0e0" stroke="#000" stroke-width="1.2"/>
<line x1="389.7" y1="634.58" x2="389.7" y2="638.54" stroke="#000" stroke-width="1.2"/>
<line x1="386.6" y1="634.58" x2="392.8" y2="634.58" stroke="#000" stroke-width="1.6"/>
<rect x="393.1" y="571.04" width="6" height="91.56" fill="url(#hatch)" stroke="#000" stroke-width="1.2"/>
<line x1="395.7" y1="568.39" x2="395.7" y2="571.04" stroke="#000" stroke-width="1.2"/>
<line x1="392.6" y1="568.39" x2="398.8" y2="568.39" stroke="#000" stroke-width="1.6"/>
<line x1="311.1" y1="532.2" x2="311.1" y2="666" stroke="#000" stroke-width="1.8"/>
<line x1="307.6" y1="662.6" x2="411.3" y2="662.6" stroke="#000" stroke-width="1.8"/>
<line x1="307.6" y1="662.6" x2="311.1" y2="662.6" stroke="#000" stroke-width="1.5"/>
<line x1="307.6" y1="636.64" x2="311.1" y2="636.64" stroke="#000" stroke-width="1.5"/>
<line x1="307.6" y1="610.68" x2="311.1" y2="610.68" stroke="#000" stroke-width="1.5"/>
<line x1="307.6" y1="584.72" x2="311.1" y2="584.72" stroke="#000" stroke-width="1.5"/>
<line x1="307.6" y1="558.76" x2="311.1" y2="558.76" stroke="#000" stroke-width="1.5"/>
<line x1="307.6" y1="532.8" x2="311.1" y2="532.8" stroke="#000" stroke-width="1.5"/>
<text x="306.5" y="667.89" font-size="11.5" text-anchor="end" font-weight="normal" font-family='"Liberation Serif", serif'>0</text>
<text x="306.5" y="642.43" font-size="11.5" text-anchor="end" font-weight="normal" font-family='"Liberation Serif", serif'>100</text>
<text x="306.5" y="616.48" font-size="11.5" text-anchor="end" font-weight="normal" font-family='"Liberation Serif", serif'>200</text>
<text x="306.5" y="590.51" font-size="11.5" text-anchor="end" font-weight="normal" font-family='"Liberation Serif", serif'>300</text>
<text x="306.5" y="564.55" font-size="11.5" text-anchor="end" font-weight="normal" font-family='"Liberation Serif", serif'>400</text>
<text x="306.5" y="538.59" font-size="11.5" text-anchor="end" font-weight="normal" font-family='"Liberation Serif", serif'>500</text>
<line x1="344.3" y1="662.6" x2="344.3" y2="666" stroke="#000" stroke-width="1.4"/>
<line x1="376.8" y1="662.6" x2="376.8" y2="666" stroke="#000" stroke-width="1.4"/>
<line x1="410.5" y1="662.6" x2="410.5" y2="666" stroke="#000" stroke-width="1.4"/>
<text transform="translate(333.9,668.6) rotate(-90)" font-size="11.5" text-anchor="end" font-family='"Liberation Serif", serif'>pSG5</text>
<text transform="translate(363.9,668.6) rotate(-90)" font-size="11.5" text-anchor="end" font-family='"Liberation Serif", serif'>P-R-S</text>
<text transform="translate(396.9,668.6) rotate(-90)" font-size="11.5" text-anchor="end" font-family='"Liberation Serif", serif'>R294W</text>
<rect x="423.4" y="532.2" width="93.8" height="25.6" fill="none" stroke="#000" stroke-width="2"/>
<text x="427.2" y="550.3" font-size="15.8" text-anchor="start" font-weight="bold" font-family='"Liberation Serif", serif'>150 nM TSA</text>
<rect x="437.5" y="586.2" width="5.8" height="5.6" fill="#fff" stroke="#000" stroke-width="1.3"/>
<text x="448" y="592.6" font-size="11.7" text-anchor="start" font-weight="normal" font-family='"Liberation Serif", serif'>Control</text>
<rect x="437.5" y="603.2" width="5.8" height="5.6" fill="#e0e0e0" stroke="#000" stroke-width="1.3"/>
<text x="448" y="609.6" font-size="11.7" text-anchor="start" font-weight="normal" font-family='"Liberation Serif", serif'>RA 10 nM</text>
<rect x="437.5" y="620.1" width="5.8" height="5.6" fill="#000" stroke="#000" stroke-width="1.3"/>
<line x1="438.5" y1="624.7" x2="442.3" y2="621.1" stroke="#000" stroke-width="1.4"/>
<line x1="438.4" y1="624.8" x2="442.4" y2="621" stroke="#fff" stroke-width="1.8"/>
<text x="448" y="626.5" font-size="11.7" text-anchor="start" font-weight="normal" font-family='"Liberation Serif", serif'>RA 100 nM</text>
<rect x="437.5" y="636.9" width="5.8" height="5.6" fill="#000" stroke="#000" stroke-width="1.3"/>
<text x="448" y="643.3" font-size="11.7" text-anchor="start" font-weight="normal" font-family='"Liberation Serif", serif'>RA 1000 nM</text>
<text x="0.7" y="715.8" font-size="13.9" text-anchor="start" font-weight="normal" font-family='"Liberation Serif", serif'>Fold Induction</text>
<text x="63.1" y="730" font-size="11.7" text-anchor="end" font-weight="normal" font-family='"Liberation Serif", serif'>RA 10 nM</text>
<text x="63.1" y="745" font-size="11.7" text-anchor="end" font-weight="normal" font-family='"Liberation Serif", serif'>RA 100 nM</text>
<text x="63.1" y="759.7" font-size="11.7" text-anchor="end" font-weight="normal" font-family='"Liberation Serif", serif'>RA 1000 nM</text>
<text x="87.3" y="730" font-size="11.7" text-anchor="middle" font-weight="normal" font-family='"Liberation Serif", serif'>2</text>
<text x="121.2" y="730" font-size="11.7" text-anchor="middle" font-weight="normal" font-family='"Liberation Serif", serif'>29</text>
<text x="155.8" y="730" font-size="11.7" text-anchor="middle" font-weight="normal" font-family='"Liberation Serif", serif'>20</text>
<text x="189.6" y="730" font-size="11.7" text-anchor="middle" font-weight="normal" font-family='"Liberation Serif", serif'>24</text>
<text x="224.4" y="730" font-size="11.7" text-anchor="middle" font-weight="normal" font-family='"Liberation Serif", serif'>1</text>
<text x="255" y="730" font-size="11.7" text-anchor="middle" font-weight="normal" font-family='"Liberation Serif", serif'>12</text>
<text x="326.9" y="730" font-size="11.7" text-anchor="middle" font-weight="normal" font-family='"Liberation Serif", serif'>2</text>
<text x="358.1" y="730" font-size="11.7" text-anchor="middle" font-weight="normal" font-family='"Liberation Serif", serif'>45</text>
<text x="392.1" y="730" font-size="11.7" text-anchor="middle" font-weight="normal" font-family='"Liberation Serif", serif'>17</text>
<text x="87.3" y="745" font-size="11.7" text-anchor="middle" font-weight="normal" font-family='"Liberation Serif", serif'>2</text>
<text x="121.2" y="745" font-size="11.7" text-anchor="middle" font-weight="normal" font-family='"Liberation Serif", serif'>33</text>
<text x="155.8" y="745" font-size="11.7" text-anchor="middle" font-weight="normal" font-family='"Liberation Serif", serif'>56</text>
<text x="189.6" y="745" font-size="11.7" text-anchor="middle" font-weight="normal" font-family='"Liberation Serif", serif'>96</text>
<text x="224.4" y="745" font-size="11.7" text-anchor="middle" font-weight="normal" font-family='"Liberation Serif", serif'>1</text>
<text x="255" y="745" font-size="11.7" text-anchor="middle" font-weight="normal" font-family='"Liberation Serif", serif'>41</text>
<text x="326.9" y="745" font-size="11.7" text-anchor="middle" font-weight="normal" font-family='"Liberation Serif", serif'>2</text>
<text x="358.1" y="745" font-size="11.7" text-anchor="middle" font-weight="normal" font-family='"Liberation Serif", serif'>61</text>
<text x="392.1" y="745" font-size="11.7" text-anchor="middle" font-weight="normal" font-family='"Liberation Serif", serif'>66</text>
<text x="87.3" y="759.7" font-size="11.7" text-anchor="middle" font-weight="normal" font-family='"Liberation Serif", serif'>2</text>
<text x="121.2" y="759.7" font-size="11.7" text-anchor="middle" font-weight="normal" font-family='"Liberation Serif", serif'>38</text>
<text x="224.4" y="759.7" font-size="11.7" text-anchor="middle" font-weight="normal" font-family='"Liberation Serif", serif'>14</text>
</svg>
</body></html>
